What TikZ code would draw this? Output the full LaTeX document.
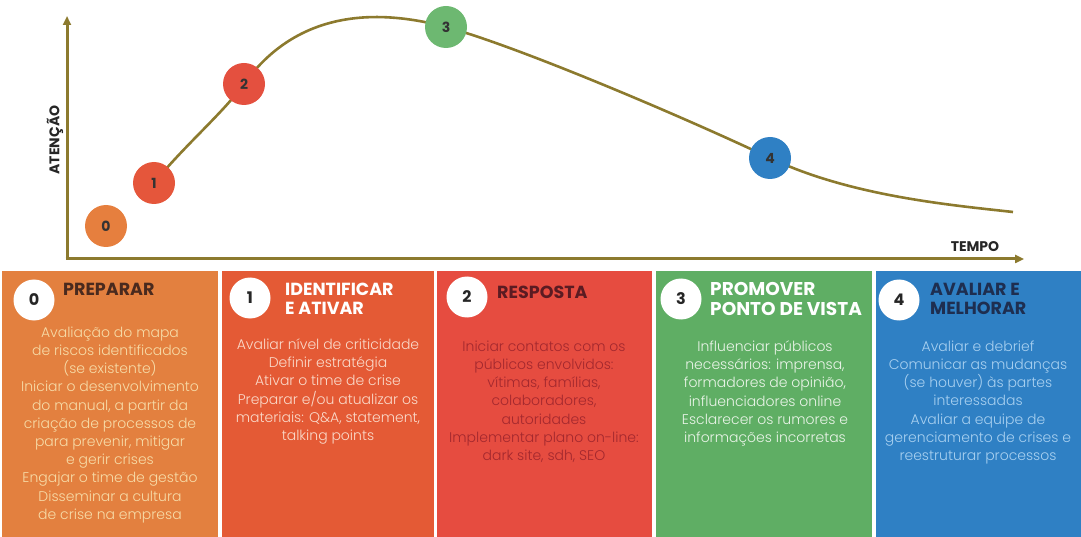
\documentclass[tikz,border=0pt]{standalone}
\usepackage{fontspec}
\setmainfont{Poppins}
\IfFontExistsTF{Poppins Light}{\newfontfamily\bodyfont{Poppins Light}}{\newfontfamily\bodyfont{Poppins}}
\usetikzlibrary{arrows.meta}
\definecolor{axiscol}{HTML}{8C7A2E}
\definecolor{c0}{HTML}{E3803F}
\definecolor{c1}{HTML}{E45A35}
\definecolor{c2}{HTML}{E64C40}
\definecolor{c3}{HTML}{5FAE64}
\definecolor{c4}{HTML}{2F80C4}
\definecolor{dot0}{HTML}{E67F3E}
\definecolor{dot1}{HTML}{E5563B}
\definecolor{dot2}{HTML}{E4503F}
\definecolor{dot3}{HTML}{6DB871}
\definecolor{dot4}{HTML}{2F80C4}
\definecolor{t0}{HTML}{4A2A1E}
\definecolor{t2}{HTML}{5B1B22}
\definecolor{t4}{HTML}{1E2E50}
\definecolor{b0}{HTML}{F7DCA8}
\definecolor{b1}{HTML}{FADACA}
\definecolor{b2}{HTML}{A3282E}
\definecolor{b3}{HTML}{EAF4E8}
\definecolor{b4}{HTML}{A8D0F0}
\tikzset{
  panel/.style={draw=none, fill=#1, anchor=north west, inner sep=0pt, minimum height=266pt},
  dot/.style={circle, fill=#1, inner sep=0pt, minimum size=42pt, font=\fontsize{14}{14}\selectfont\bfseries, text=black!80},
  badge/.style={circle, fill=white, inner sep=0pt, minimum size=41pt, font=\fontsize{16}{16}\selectfont\bfseries, text=black!85},
  ttl/.style={anchor=north west, inner sep=0pt, align=left, font=\fontsize{17.5}{19}\selectfont\bfseries, text=#1},
  body/.style={anchor=north, inner sep=0pt, align=center, font=\bodyfont\fontsize{14}{18.2}\selectfont, text=#1},
  axislbl/.style={font=\fontsize{14}{14}\selectfont\bfseries, text=black!85, inner sep=0pt},
  axisline/.style={draw=axiscol, line width=3pt, -{Triangle[length=9pt,width=8pt]}}
}
\begin{document}
\begin{tikzpicture}[x=1pt,y=-1pt]
\useasboundingbox (0,0) rectangle (1081,537);
% axes
\coordinate (origin) at (67,259);
\coordinate (ytop) at (67,16);
\coordinate (xend) at (1024,259);
\draw[axisline] (origin) -- (ytop);
\draw[axisline] ([xshift=-1.5pt]origin) -- (xend);
\node[axislbl, rotate=90] (att) at (55,140) {ATENÇÃO};
\node[axislbl] (tempo) at (975,247) {TEMPO};
% curve
\coordinate (p1) at (154,183);
\coordinate (p2) at (244,84);
\coordinate (p3) at (446,27);
\coordinate (p4) at (770,158);
\coordinate (pend) at (1013,212);
\draw[axiscol, line width=2.6pt]
  (p1) .. controls (185,145) and (222,114) .. (p2)
       .. controls (290,20) and (360,4) .. (p3)
       .. controls (520,47) and (690,120) .. (p4)
       .. controls (850,196) and (950,205) .. (pend);
\node[dot=dot0] (d0) at (106,226) {0};
\node[dot=dot1] (d1) at (p1) {1};
\node[dot=dot2] (d2) at (p2) {2};
\node[dot=dot3] (d3) at (p3) {3};
\node[dot=dot4] (d4) at (p4) {4};
% panels
\node[panel=c0, minimum width=216pt] (box0) at (2,271) {};
\node[panel=c1, minimum width=212pt] (box1) at (222,271) {};
\node[panel=c2, minimum width=215pt] (box2) at (437,271) {};
\node[panel=c3, minimum width=216pt] (box3) at (656,271) {};
\node[panel=c4, minimum width=205pt] (box4) at (876,271) {};
% badges
\node[badge] (n0) at (34,300) {0};
\node[badge] (n1) at (250,298) {1};
\node[badge] (n2) at (467,297) {2};
\node[badge] (n3) at (681,299) {3};
\node[badge] (n4) at (899,300) {4};
% titles
\node[ttl=t0] (tt0) at (63,283) {PREPARAR};
\node[ttl=white] (tt1) at (285,283) {IDENTIFICAR\\E ATIVAR};
\node[ttl=t2] (tt2) at (497,286) {RESPOSTA};
\node[ttl=white, font=\fontsize{18.5}{20}\selectfont\bfseries] (tt3) at (710,282) {PROMOVER\\PONTO DE VISTA};
\node[ttl=t4] (tt4) at (930,283) {AVALIAR E\\MELHORAR};
% bodies
\node[body=b0] (bd0) at (110,326.5) {Avaliação do mapa\\de riscos identificados\\(se existente)\\Iniciar o desenvolvimento\\do manual, a partir da\\criação de processos de\\para prevenir, mitigar\\e gerir crises\\Engajar o time de gestão\\Disseminar a cultura\\de crise na empresa};
\node[body=b1] (bd1) at (328,338.5) {Avaliar nível de criticidade\\Definir estratégia\\Ativar o time de crise\\Preparar e/ou atualizar os\\materiais: Q\&A, statement,\\talking points};
\node[body=b2] (bd2) at (544,340.5) {Iniciar contatos com os\\públicos envolvidos:\\vítimas, famílias,\\colaboradores,\\autoridades\\Implementar plano on-line:\\dark site, sdh, SEO};
\node[body=b3] (bd3) at (765,340.5) {Influenciar públicos\\necessários: imprensa,\\formadores de opinião,\\influenciadores online\\Esclarecer os rumores e\\informações incorretas};
\node[body=b4] (bd4) at (978,340.5) {Avaliar e debrief\\Comunicar as mudanças\\(se houver) às partes\\interessadas\\Avaliar a equipe de\\gerenciamento de crises e\\reestruturar processos};
\end{tikzpicture}
\end{document}
